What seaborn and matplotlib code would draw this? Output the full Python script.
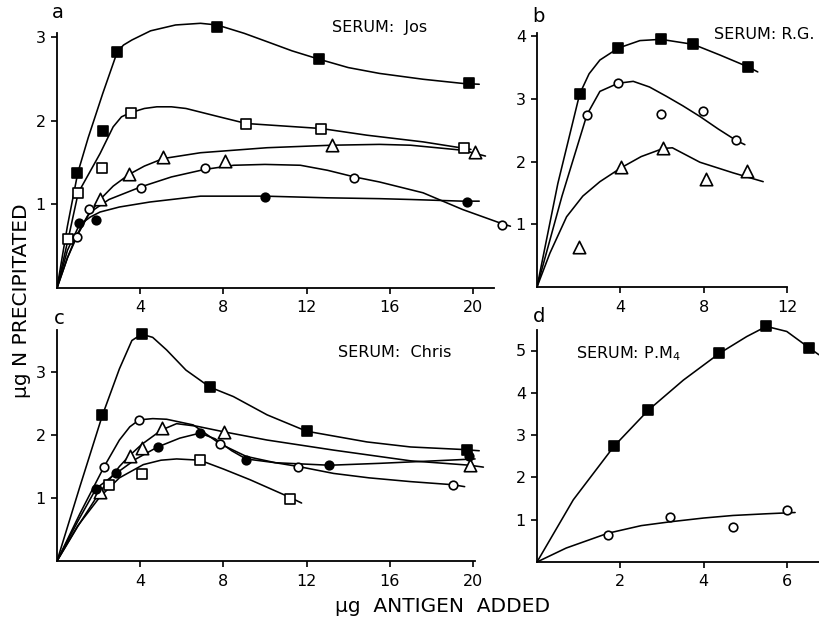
import matplotlib
matplotlib.use("Agg")
import matplotlib.pyplot as plt
import seaborn as sns

# ---------------- Panel a : SERUM Jos ----------------
a_fsq_x = [0.96, 2.2, 2.9, 7.7, 12.6, 19.8]
a_fsq_y = [1.38, 1.88, 2.83, 3.13, 2.74, 2.45]
a_fsq_cx = [0, 0.5, 1.0, 1.5, 2.2, 2.9, 3.2, 3.6, 4.5, 5.7, 6.9, 7.7, 9.0, 10.1, 11.3, 12.6, 14.0, 15.5, 17.6, 19.5, 20.3]
a_fsq_cy = [0, 0.74, 1.38, 1.80, 2.33, 2.83, 2.91, 2.97, 3.08, 3.15, 3.17, 3.15, 3.05, 2.95, 2.84, 2.74, 2.64, 2.57, 2.50, 2.45, 2.44]

a_osq_x = [0.54, 1.02, 2.15, 3.54, 9.1, 12.7, 19.57]
a_osq_y = [0.59, 1.14, 1.44, 2.10, 1.97, 1.91, 1.68]
a_osq_cx = [0, 0.54, 1.02, 2.07, 2.7, 3.1, 3.54, 4.2, 4.8, 5.5, 6.2, 7.0, 7.8, 9.1, 10.9, 12.7, 14.9, 17.6, 19.9]
a_osq_cy = [0, 0.59, 1.14, 1.61, 1.93, 2.05, 2.10, 2.15, 2.17, 2.17, 2.15, 2.10, 2.05, 1.97, 1.94, 1.91, 1.83, 1.75, 1.66]

a_tri_x = [2.07, 3.46, 5.1, 8.1, 13.2, 20.1]
a_tri_y = [1.06, 1.36, 1.57, 1.52, 1.71, 1.63]
a_tri_cx = [0, 0.5, 1.0, 1.5, 2.07, 2.7, 3.46, 4.2, 5.1, 6.9, 8.5, 10.1, 13.2, 15.5, 17.0, 19.5, 20.6]
a_tri_cy = [0, 0.36, 0.64, 0.87, 1.06, 1.22, 1.36, 1.46, 1.55, 1.62, 1.65, 1.68, 1.71, 1.72, 1.71, 1.65, 1.58]

a_oci_x = [0.94, 1.55, 4.02, 7.1, 14.3, 21.4]
a_oci_y = [0.61, 0.95, 1.20, 1.44, 1.32, 0.76]
a_oci_cx = [0, 0.5, 0.94, 1.55, 2.5, 4.02, 5.5, 7.1, 8.5, 10.0, 11.7, 13.0, 14.3, 15.5, 17.6, 19.5, 21.4, 21.8]
a_oci_cy = [0, 0.36, 0.63, 0.90, 1.06, 1.21, 1.33, 1.42, 1.47, 1.48, 1.47, 1.41, 1.33, 1.27, 1.14, 0.94, 0.77, 0.74]

a_fci_x = [1.06, 1.86, 10.0, 19.7]
a_fci_y = [0.78, 0.82, 1.09, 1.03]
a_fci_cx = [0, 0.5, 1.06, 1.6, 2.07, 3.0, 4.47, 6.9, 10.0, 13.0, 15.5, 17.0, 19.5, 20.3]
a_fci_cy = [0, 0.45, 0.75, 0.85, 0.91, 0.97, 1.03, 1.10, 1.10, 1.08, 1.07, 1.06, 1.04, 1.04]

# ---------------- Panel b : SERUM R.G. ----------------
b_fsq_x = [2.05, 3.9, 5.95, 7.5, 10.14]
b_fsq_y = [3.08, 3.81, 3.95, 3.87, 3.51]
b_fsq_cx = [0, 1.0, 2.05, 2.5, 3.02, 3.9, 4.94, 5.95, 7.5, 8.78, 10.14, 10.6]
b_fsq_cy = [0, 1.65, 3.08, 3.40, 3.62, 3.81, 3.93, 3.95, 3.87, 3.70, 3.51, 3.43]

b_oci_x = [2.4, 3.9, 5.95, 7.98, 9.55]
b_oci_y = [2.75, 3.25, 2.76, 2.80, 2.34]
b_oci_cx = [0, 1.2, 2.4, 3.02, 3.9, 4.62, 5.4, 6.22, 7.0, 7.82, 8.7, 9.55, 9.98]
b_oci_cy = [0, 1.45, 2.75, 3.12, 3.25, 3.28, 3.19, 3.04, 2.89, 2.72, 2.52, 2.34, 2.27]

b_tri_x = [2.02, 4.03, 6.06, 8.11, 10.07]
b_tri_y = [0.63, 1.92, 2.21, 1.72, 1.85]
b_tri_cx = [0, 0.62, 1.42, 2.2, 3.02, 4.03, 5.0, 6.06, 6.5, 7.82, 9.42, 10.86]
b_tri_cy = [0, 0.54, 1.12, 1.45, 1.68, 1.90, 2.08, 2.21, 2.22, 1.99, 1.82, 1.68]

# ---------------- Panel c : SERUM Chris ----------------
c_fsq_x = [2.18, 4.07, 7.35, 12.0, 19.7]
c_fsq_y = [2.31, 3.60, 2.76, 2.06, 1.76]
c_fsq_cx = [0, 1.1, 2.18, 3.0, 3.6, 4.07, 4.6, 5.27, 6.2, 7.35, 8.48, 10.1, 12.0, 14.9, 17.0, 19.5, 20.3]
c_fsq_cy = [0, 1.18, 2.31, 3.05, 3.50, 3.60, 3.55, 3.35, 3.03, 2.76, 2.61, 2.32, 2.06, 1.89, 1.81, 1.77, 1.75]

c_oci_x = [2.27, 3.95, 7.84, 11.6, 19.06]
c_oci_y = [1.50, 2.24, 1.86, 1.50, 1.21]
c_oci_cx = [0, 1.1, 2.27, 3.0, 3.5, 3.95, 4.6, 5.27, 6.55, 7.84, 9.1, 10.5, 11.6, 13.3, 15.0, 17.0, 19.06, 19.6]
c_oci_cy = [0, 0.75, 1.50, 1.92, 2.13, 2.24, 2.26, 2.25, 2.16, 1.86, 1.66, 1.56, 1.50, 1.39, 1.32, 1.26, 1.21, 1.18]

c_tri_x = [2.07, 3.51, 4.07, 5.03, 8.03, 19.85]
c_tri_y = [1.10, 1.66, 1.79, 2.11, 2.05, 1.52]
c_tri_cx = [0, 1.0, 2.07, 3.0, 3.51, 4.07, 5.03, 5.75, 6.71, 8.03, 10.1, 13.3, 17.0, 19.85, 20.5]
c_tri_cy = [0, 0.55, 1.10, 1.50, 1.68, 1.85, 2.08, 2.18, 2.14, 2.05, 1.92, 1.76, 1.59, 1.52, 1.49]

c_fci_x = [1.88, 2.84, 4.84, 6.87, 9.09, 13.1, 19.8]
c_fci_y = [1.15, 1.39, 1.81, 2.03, 1.61, 1.52, 1.66]
c_fci_cx = [0, 1.0, 1.88, 2.84, 3.8, 4.84, 5.9, 6.87, 7.6, 8.4, 9.09, 10.5, 13.1, 15.5, 17.5, 20.1]
c_fci_cy = [0, 0.63, 1.15, 1.39, 1.62, 1.81, 1.95, 2.03, 1.94, 1.75, 1.62, 1.56, 1.52, 1.55, 1.58, 1.62]

c_osq_x = [2.52, 4.1, 6.87, 11.2]
c_osq_y = [1.21, 1.38, 1.60, 0.99]
c_osq_cx = [0, 1.0, 2.07, 3.0, 4.15, 5.0, 5.75, 6.87, 8.0, 9.28, 11.2, 11.76]
c_osq_cy = [0, 0.56, 1.02, 1.32, 1.53, 1.60, 1.62, 1.60, 1.46, 1.29, 1.01, 0.92]

# ---------------- Panel d : SERUM P.M4 ----------------
d_fsq_x = [1.85, 2.67, 4.37, 5.5, 6.53]
d_fsq_y = [2.74, 3.59, 4.93, 5.57, 5.06]
d_fsq_cx = [0, 0.87, 1.85, 2.67, 3.51, 4.37, 5.03, 5.5, 5.99, 6.53, 6.76]
d_fsq_cy = [0, 1.47, 2.74, 3.59, 4.30, 4.93, 5.33, 5.57, 5.45, 5.06, 4.90]

d_oci_x = [1.7, 3.2, 4.7, 6.0]
d_oci_y = [0.64, 1.07, 0.83, 1.23]
d_oci_cx = [0, 0.7, 1.7, 2.5, 3.19, 4.0, 4.7, 5.5, 6.19]
d_oci_cy = [0, 0.33, 0.68, 0.86, 0.95, 1.04, 1.10, 1.14, 1.17]

# tick labels
a_xticks = [4, 8, 12, 16, 20]
a_yticks = [1, 2, 3]
b_xticks = [4, 8, 12]
b_yticks = [1, 2, 3, 4]
c_xticks = [4, 8, 12, 16, 20]
c_yticks = [1, 2, 3]
d_xticks = [2, 4, 6]
d_yticks = [1, 2, 3, 4, 5]

sns.set_theme(style="ticks")
plt.rcParams['font.family'] = ['DejaVu Sans']
plt.rcParams['text.color'] = 'black'
plt.rcParams['axes.labelcolor'] = 'black'
plt.rcParams['xtick.color'] = 'black'
plt.rcParams['ytick.color'] = 'black'

W, H = 819, 625
fig = plt.figure(figsize=(W / 100, H / 100), dpi=100)


def make_ax(left_px, bottom_px, xmax, ymax, xppu, yppu):
    w = xmax * xppu
    h = ymax * yppu
    return fig.add_axes([left_px / W, (H - bottom_px) / H, w / W, h / H])


ax_a = make_ax(57, 288, 22.0, 3.3, 20.8, 83.5)
ax_b = make_ax(537, 287, 13.5, 4.3, 20.83, 62.7)
ax_c = make_ax(57, 561, 22.0, 3.9, 20.8, 63.0)
ax_d = make_ax(537, 562, 6.76, 5.8, 41.7, 42.3)

styles = {
    'fsq': dict(marker='s', s=48, color='black', edgecolor='black'),
    'osq': dict(marker='s', s=48, color='white', edgecolor='black'),
    'tri': dict(marker='^', s=80, color='white', edgecolor='black'),
    'oci': dict(marker='o', s=38, color='white', edgecolor='black'),
    'fci': dict(marker='o', s=38, color='black', edgecolor='black'),
}


def series(ax, kind, px, py, cx, cy):
    sns.lineplot(x=cx, y=cy, ax=ax, color='black', lw=1.15, sort=False,
                 estimator=None, zorder=2)
    sns.scatterplot(x=px, y=py, ax=ax, linewidth=1.2, zorder=3,
                    clip_on=False, legend=False, **styles[kind])


series(ax_a, 'fsq', a_fsq_x, a_fsq_y, a_fsq_cx, a_fsq_cy)
series(ax_a, 'osq', a_osq_x, a_osq_y, a_osq_cx, a_osq_cy)
series(ax_a, 'tri', a_tri_x, a_tri_y, a_tri_cx, a_tri_cy)
series(ax_a, 'oci', a_oci_x, a_oci_y, a_oci_cx, a_oci_cy)
series(ax_a, 'fci', a_fci_x, a_fci_y, a_fci_cx, a_fci_cy)

series(ax_b, 'fsq', b_fsq_x, b_fsq_y, b_fsq_cx, b_fsq_cy)
series(ax_b, 'oci', b_oci_x, b_oci_y, b_oci_cx, b_oci_cy)
series(ax_b, 'tri', b_tri_x, b_tri_y, b_tri_cx, b_tri_cy)

series(ax_c, 'fsq', c_fsq_x, c_fsq_y, c_fsq_cx, c_fsq_cy)
series(ax_c, 'oci', c_oci_x, c_oci_y, c_oci_cx, c_oci_cy)
series(ax_c, 'tri', c_tri_x, c_tri_y, c_tri_cx, c_tri_cy)
series(ax_c, 'fci', c_fci_x, c_fci_y, c_fci_cx, c_fci_cy)
series(ax_c, 'osq', c_osq_x, c_osq_y, c_osq_cx, c_osq_cy)

series(ax_d, 'fsq', d_fsq_x, d_fsq_y, d_fsq_cx, d_fsq_cy)
series(ax_d, 'oci', d_oci_x, d_oci_y, d_oci_cx, d_oci_cy)

cfg = [
    (ax_a, 22.0, 3.3, 21.0, 3.05, a_xticks, a_yticks, 'SERUM:  Jos', (0.60, 0.945)),
    (ax_b, 13.5, 4.3, 12.0, 4.05, b_xticks, b_yticks, 'SERUM: R.G.', (0.63, 0.935)),
    (ax_c, 22.0, 3.9, 20.1, 3.67, c_xticks, c_yticks, 'SERUM:  Chris', (0.615, 0.85)),
    (ax_d, 6.76, 5.8, 6.76, 5.48, d_xticks, d_yticks, r'SERUM: P.M$_4$', (0.14, 0.85)),
]

for ax, xm, ym, xs, ys, xt, yt, serum, spos in cfg:
    ax.set_xlim(0, xm)
    ax.set_ylim(0, ym)
    ax.set_xticks(xt)
    ax.set_yticks(yt)
    ax.set_xticklabels([str(v) for v in xt])
    ax.set_yticklabels([str(v) for v in yt])
    ax.set_xlabel('')
    ax.set_ylabel('')
    for s in ['top', 'right']:
        ax.spines[s].set_visible(False)
    ax.spines['left'].set_bounds(0, ys)
    ax.spines['bottom'].set_bounds(0, xs)
    for s in ['left', 'bottom']:
        ax.spines[s].set_linewidth(1.3)
        ax.spines[s].set_color('black')
    ax.tick_params(axis='both', direction='out', length=4, width=1.2,
                   colors='black', labelcolor='black', labelsize=11.5)
    ax.tick_params(axis='x', pad=5)
    ax.tick_params(axis='y', pad=4)
    ax.patch.set_alpha(0)
    ax.text(spos[0], spos[1], serum, transform=ax.transAxes, fontsize=11.5,
            ha='left', va='center', color='black')

fig.text(52 / W, 1 - 12 / H, 'a', fontsize=14, ha='left', va='center', color='black')
fig.text(532 / W, 1 - 17 / H, 'b', fontsize=14, ha='left', va='center', color='black')
fig.text(54 / W, 1 - 318 / H, 'c', fontsize=14, ha='left', va='center', color='black')
fig.text(533 / W, 1 - 316 / H, 'd', fontsize=14, ha='left', va='center', color='black')

fig.text(22 / W, 1 - 301 / H, 'µg N PRECIPITATED', rotation=90, fontsize=14.5,
         ha='center', va='center', color='black')
fig.text(443 / W, 1 - 607 / H, 'µg  ANTIGEN  ADDED', fontsize=14.5,
         ha='center', va='center', color='black')

fig.savefig('out.png', dpi=100, facecolor='white')
